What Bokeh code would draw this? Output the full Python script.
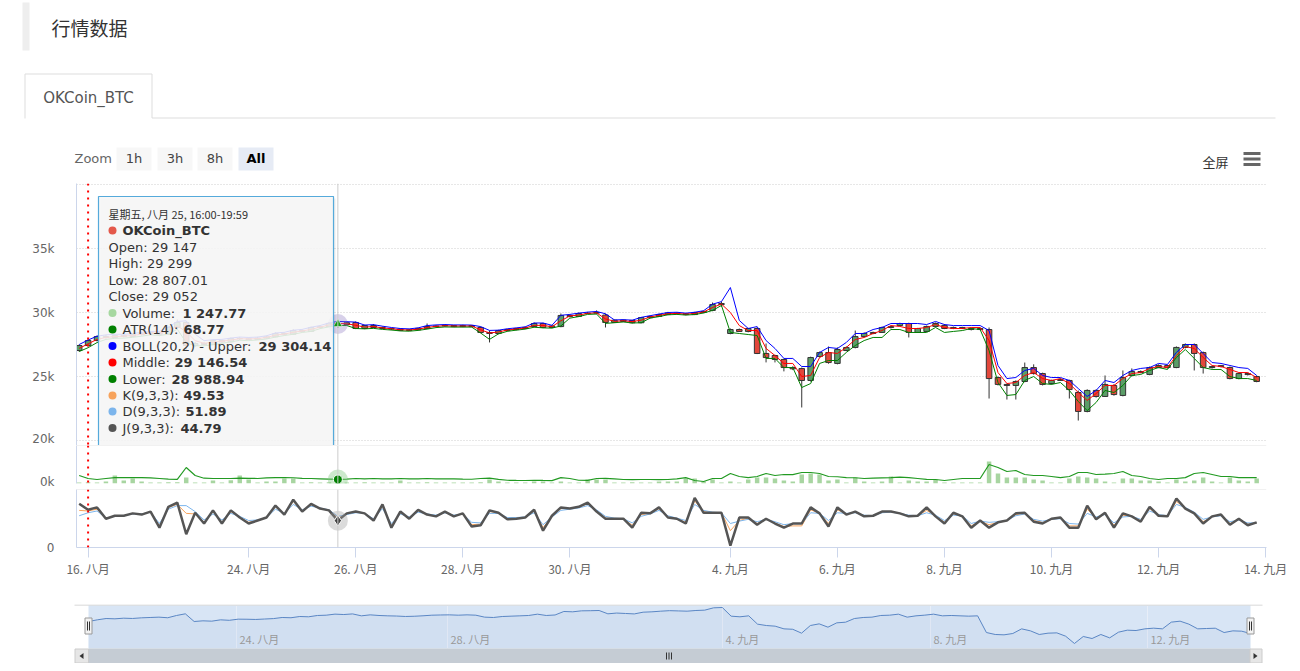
from bokeh.plotting import figure
from bokeh.layouts import column
from bokeh.models import Range1d, FixedTicker, Span, ColumnDataSource
from bokeh.core.properties import value
from bokeh.embed import file_html
from bokeh.resources import INLINE

# ---------------- data (4h candles, ordinal index) ----------------
open_ = [
27030,27420,27810,28120,28050,28200,28130,28280,28360,28440,
28300,28830,29220,27420,27580,27500,27810,27700,27970,27950,
27900,28000,28100,28360,28300,28590,28520,28830,28900,29147,
29052,29220,28750,28980,28830,28750,28700,28600,28650,28760,
28900,28950,28980,28900,28980,28830,28440,28360,28590,28670,
28750,28900,29140,28830,28900,29770,29690,29920,29950,29800,
29220,29400,29380,29200,29600,29690,29840,29960,29900,29840,
30000,30160,30620,28360,28670,28520,28750,26800,26640,26330,
25700,25620,24690,26560,26870,26020,27030,27270,28120,28360,
28440,28830,28980,29140,28440,28520,28910,28990,28750,28830,
28750,28670,28670,24920,24380,24300,24610,25700,25230,24450,
24690,24690,23750,22270,23910,23440,24300,23520,25080,25390,
25160,25700,25860,25700,27270,27500,26870,25700,25780,25700,
24840,25230,25000]
high = [
27500,27900,28200,28250,28300,28280,28350,28450,28520,28500,
28900,29450,29300,27700,27700,27900,27880,28050,28100,28050,
28100,28200,28450,28450,28700,28700,28900,29000,29250,29299,
29300,29300,29050,29100,28900,28800,28750,28720,28800,29140,
29000,29060,29000,29050,29000,28900,28600,28650,28720,28800,
28900,29220,29200,29000,29920,29850,30000,30050,30160,29900,
29450,29450,29420,29650,29750,29900,30050,30000,29950,30050,
30150,30780,30850,28750,28750,28800,28850,27580,26700,26400,
25800,25700,26550,26950,27340,27270,27350,28590,28450,28500,
28900,28980,29200,29200,28800,28980,29220,29100,28900,28880,
28830,28830,28830,25000,24450,24700,26090,25950,25300,24750,
24850,24750,23900,24000,24000,25080,24400,25470,25630,25470,
25780,25950,25900,27350,27580,27580,26950,25850,25900,25780,
25300,25300,25080]
low = [
26950,27350,27750,27950,27980,28050,28080,28200,28300,28150,
28250,28780,27050,27300,27400,27450,27600,27650,27850,27800,
27850,27950,28050,28200,28250,28450,28480,28750,28880,28807.01,
29000,28700,28700,28780,28700,28620,28550,28560,28600,28720,
28850,28900,28850,28850,28850,28400,27660,28300,28520,28600,
28700,28850,28780,28780,28850,29620,29650,29880,29900,28830,
29180,29250,29150,29150,29550,29650,29800,29850,29780,29800,
29950,30100,30450,28300,28480,28450,26750,26100,26100,25400,
25500,22580,24600,26500,26000,25950,26980,27200,28050,28300,
28400,28750,28950,28050,28400,28480,28880,28700,28700,28700,
28600,28620,23280,24300,23200,23200,24550,25150,24300,24380,
24650,23280,21560,22200,23350,23400,23500,23450,25000,25250,
25100,25650,25620,25650,27200,25470,25230,25620,25700,24780,
24780,25080,24550]
close = [
27420,27810,28120,28050,28200,28130,28280,28360,28440,28300,
28830,29220,27420,27580,27500,27810,27700,27970,27950,27900,
28000,28100,28360,28300,28590,28520,28830,28900,29147,29052,
29200,28750,28980,28830,28750,28700,28600,28650,28760,28900,
28950,28980,28900,28980,28900,28440,28360,28590,28670,28750,
28830,29140,28830,28950,29770,29690,29920,29950,30000,29220,
29400,29300,29200,29600,29690,29840,29960,29900,29840,30000,
30080,30620,30700,28670,28520,28750,26800,26480,26330,25700,
25600,24690,26480,26870,26090,27110,27260,28120,28360,28440,
28830,28900,29140,28440,28750,28910,29140,28750,28830,28750,
28670,28750,24840,24380,24300,24610,25700,25230,24380,24690,
24760,23980,22270,23910,23440,24380,23590,24920,25390,25310,
25700,25860,25700,27270,27500,26800,25700,25780,25850,24840,
25230,25150,24610]
boll_upper = [
27500,27850,28150,28250,28300,28300,28350,28450,28520,28530,
28850,29300,29350,28300,27800,27880,27900,28000,28080,28050,
28080,28180,28400,28450,28620,28680,28850,28980,29180,29304.14,
29280,29250,29020,29050,28930,28830,28750,28720,28800,28980,
29030,29060,29030,29030,29020,28900,28600,28620,28730,28800,
28880,29180,29180,29000,29780,29850,29950,30030,30080,29900,
29420,29440,29400,29620,29750,29880,30000,30020,29950,30020,
30140,30650,30850,31950,29380,28750,28900,27810,27190,26410,
26410,25780,25780,26880,27270,27190,27660,28360,28360,28670,
28830,29140,29140,29140,29140,29060,29300,29060,28980,28980,
28980,28980,28590,25860,24840,24920,25470,25630,25080,24920,
24920,24690,24060,23440,23910,24690,24530,25080,25470,25630,
25700,26020,25940,26880,27500,27500,26800,26090,26020,25860,
25700,25630,25080]
boll_mid = [
27200,27550,27900,28050,28120,28150,28200,28300,28400,28380,
28550,28950,28500,27800,27600,27680,27750,27850,27950,27930,
27960,28050,28230,28320,28450,28560,28680,28860,29020,29146.54,
29120,29000,28860,28900,28800,28730,28650,28630,28700,28830,
28920,28960,28940,28940,28940,28650,28400,28480,28630,28710,
28790,29000,28990,28890,29350,29730,29800,29930,29970,29500,
29310,29350,29290,29400,29650,29770,29900,29930,29870,29920,
30040,30390,30660,30000,28980,28590,28590,27190,26640,26020,
26020,25000,25080,26480,26880,26800,27270,27890,28050,28360,
28590,28980,28910,28750,28750,28830,29060,28830,28750,28750,
28830,28830,27810,25310,24450,24530,25080,25310,24840,24690,
24840,24450,23750,23130,23670,24300,24300,24840,25230,25310,
25630,25780,25700,26640,27340,27190,26480,25860,25780,25550,
25310,25310,24920]
boll_lower = [
26950,27250,27650,27900,27980,28000,28060,28150,28260,28200,
28300,28700,27650,27400,27400,27480,27600,27700,27830,27800,
27850,27930,28080,28200,28300,28440,28520,28740,28880,28988.94,
28980,28750,28720,28760,28680,28630,28560,28540,28600,28700,
28820,28870,28860,28860,28860,28400,27900,28330,28530,28620,
28700,28850,28800,28780,28950,29560,29680,29850,29880,29150,
29200,29260,29180,29200,29560,29680,29820,29850,29800,29840,
29960,30160,30550,28440,28360,28280,28200,26410,26410,25700,
25700,24140,24450,26020,26250,26250,26880,27420,27810,28050,
28050,28670,28670,28440,28440,28440,28830,28440,28520,28590,
28750,28670,27030,24530,23520,23590,24690,25000,24450,24380,
24530,23910,23050,22340,22970,23910,23750,24300,25080,25160,
25470,25700,25550,26480,27110,26410,25700,25550,25550,25000,
24840,24840,24690]
volume = [
260,300,240,520,1980,760,1240,480,250,230,
280,310,1500,270,220,740,260,780,2010,990,
240,510,470,1260,1230,250,290,230,300,1247.77,
260,240,280,250,230,270,760,240,250,280,
230,260,240,270,250,300,1010,480,260,240,
270,520,490,250,510,270,240,980,1020,1000,
260,240,280,250,270,500,480,520,1240,1260,
500,990,260,510,270,1010,1490,1510,1260,740,
510,2240,2510,2260,760,990,260,1500,490,250,
520,1740,260,760,510,480,1010,250,240,260,
250,270,5500,2500,1490,1520,1480,1010,740,260,
250,1260,1740,1510,1240,510,270,1250,1230,760,
740,500,260,1010,490,760,1500,510,260,1490,
760,510,1240]
atr = [
136,85,68,85,100,100,100,100,95,85,
75,70,272,136,90,85,85,85,90,88,
85,95,100,100,98,88,85,80,75,68.77,
75,85,80,85,80,78,85,80,78,85,
80,78,80,75,72,85,90,70,55,52,
51,55,52,50,100,85,55,52,85,88,
80,68,66,68,68,66,68,80,100,51,
34,85,85,170,119,100,119,170,136,153,
150,187,187,170,119,115,100,98,85,90,
95,100,110,100,85,70,68,51,68,85,
85,85,323,272,204,221,153,136,136,119,
100,119,187,187,153,160,170,204,136,119,
85,68,85,85,100,170,187,153,119,119,
100,100,100]
kdj_k = [
62,61,64,48,53,53,57,55,60,36,
67,72,57,56,42,60,42,60,50,42,
45,50,68,56,77,61,71,65,62,49.53,
56,59,57,46,69,36,58,49,61,55,
53,59,53,56,38,39,60,58,48,49,
50,61,33,52,65,65,67,73,61,49,
48,48,37,55,57,65,51,48,42,78,
60,58,58,28,45,49,40,47,41,35,
36,36,63,57,40,63,56,59,53,53,
59,60,57,53,53,62,53,42,56,52,
36,44,38,42,45,55,57,45,42,47,
49,36,36,64,49,56,37,54,52,45,
65,54,52,77,66,58,43,51,54,40,
47,39,41]
kdj_d = [
53,58,61,49,52,53,56,56,59,40,
64,70,70,60,46,56,46,57,52,45,
46,50,64,57,72,63,69,66,63,51.89,
55,58,57,48,65,40,56,51,59,56,
54,58,54,56,42,41,57,57,50,50,
51,58,38,51,62,64,66,70,63,52,
49,48,41,52,56,62,53,49,45,72,
62,59,58,40,44,47,43,47,43,38,
40,40,58,57,45,58,57,58,54,53,
58,59,57,54,53,58,54,45,54,53,
40,44,42,43,45,53,56,47,44,47,
48,40,39,57,51,55,41,51,52,47,
61,55,53,72,67,59,47,51,53,43,
46,41,41]
kdj_j = [
73,63,67,48,53,53,57,55,60,33,
68,75,22,58,40,62,40,62,50,40,
45,50,70,55,80,60,73,65,62,44.79,
57,60,57,45,72,33,60,48,63,55,
52,60,52,57,35,37,62,58,47,48,
50,63,28,53,67,65,68,75,60,48,
48,48,33,58,57,67,50,48,40,83,
58,58,58,3,50,50,38,48,40,33,
40,40,67,57,35,67,55,60,52,53,
60,60,57,52,53,67,52,40,58,52,
33,45,33,42,45,57,58,43,40,48,
50,33,33,70,47,58,33,57,52,43,
68,53,52,82,65,57,40,52,55,38,
48,37,42]

x_tick_idx = [1, 19, 31, 43, 55, 73, 85, 97, 109, 121, 133]
x_tick_labels = ["16. 八月", "24. 八月", "26. 八月", "28. 八月", "30. 八月",
                 "4. 九月", "6. 九月", "8. 九月", "10. 九月", "12. 九月", "14. 九月"]
price_ticks = [20000, 25000, 30000, 35000]
price_labels = ["20k", "25k", "30k", "35k"]
nav_tick_pos = [16.81, 40.78, 72.02, 95.65, 120.30]
nav_tick_labels = ["24. 八月", "28. 八月", "4. 九月", "8. 九月", "12. 九月"]
hover_i = 29
mark_i = 1

# ---------------- styling ----------------
W = 1292
LAT = "DejaVu Sans"
CJK = "Noto Sans CJK SC"
N = len(close)
idx = list(range(N))
XR = Range1d(-0.3, 133.1)


def no_align(p):
    try:
        p.frame_align = False
    except Exception:
        pass


def pane(h, yr, top=0, bottom=0, xloc=None):
    p = figure(width=W, height=h, x_range=XR, y_range=yr, toolbar_location=None,
               output_backend="svg", x_axis_location=xloc, y_axis_location="left",
               min_border_left=76, min_border_right=26, min_border_top=top,
               min_border_bottom=bottom)
    p.outline_line_color = None
    p.background_fill_color = "white"
    p.border_fill_color = "white"
    for g in p.xgrid:
        g.visible = False
    ax = p.yaxis[0]
    ax.axis_line_color = "#ccd6eb"
    ax.major_tick_line_color = None
    ax.minor_tick_line_color = None
    ax.major_label_text_color = "#666666"
    ax.major_label_text_font = LAT
    ax.major_label_text_font_size = "12px"
    ax.major_label_standoff = 16
    p.add_layout(Span(location=hover_i, dimension="height", line_color="#cccccc", line_width=1))
    p.add_layout(Span(location=mark_i, dimension="height", line_color="#ff0000",
                      line_width=2, line_dash="2 5"))
    return p


# ---------------- header ----------------
hdr = figure(width=W, height=183, x_range=Range1d(0, 1292), y_range=Range1d(183, 0),
             x_axis_location=None, y_axis_location=None, min_border=0,
             toolbar_location=None, output_backend="svg")
no_align(hdr)
hdr.outline_line_color = None
hdr.grid.visible = False
hdr.quad(left=[22], right=[29], top=[2], bottom=[50], fill_color="#eeeeee", line_color=None)
hdr.text(x=[51], y=[27], text=["行情数据"], text_font=value(CJK), text_font_size="19px",
         text_color="#333333", text_baseline="middle", text_align="left")
hdr.multi_line(xs=[[24.5, 24.5, 151.5, 151.5, 1275]], ys=[[118, 73.5, 73.5, 117.5, 117.5]],
               line_color="#dddddd", line_width=1)
hdr.text(x=[88], y=[97], text=["OKCoin_BTC"], text_font=value(LAT), text_font_size="15px",
         text_color="#555555", text_baseline="middle", text_align="center")
hdr.text(x=[74], y=[158], text=["Zoom"], text_font=value(LAT), text_font_size="13px",
         text_color="#666666", text_baseline="middle", text_align="left")
hdr.quad(left=[116, 157, 197], right=[151, 192, 232], top=[147] * 3, bottom=[170] * 3,
         fill_color="#f7f7f7", line_color=None)
hdr.quad(left=[238], right=[273], top=[147], bottom=[170], fill_color="#e6ebf5", line_color=None)
hdr.text(x=[133.5, 174.5, 214.5], y=[158] * 3, text=["1h", "3h", "8h"], text_font=value(LAT),
         text_font_size="13px", text_color="#444444", text_baseline="middle", text_align="center")
hdr.text(x=[255.5], y=[158], text=["All"], text_font=value(LAT), text_font_size="13px",
         text_font_style="bold", text_color="#000000", text_baseline="middle", text_align="center")
hdr.text(x=[1215], y=[161], text=["全屏"], text_font=value(CJK), text_font_size="13px",
         text_color="#333333", text_baseline="middle", text_align="center")
hdr.multi_line(xs=[[1243, 1260]] * 3, ys=[[153, 153], [158.5, 158.5], [164, 164]],
               line_color="#666666", line_width=3)

# ---------------- main pane ----------------
main = pane(262, Range1d(19609.375, 40078.125))
main.ygrid.ticker = FixedTicker(ticks=[20000, 25000, 30000, 35000, 40000])
main.ygrid.grid_line_color = "#cfcfcf"
main.ygrid.grid_line_dash = "1 2"
main.yaxis.ticker = FixedTicker(ticks=price_ticks)
main.yaxis.major_label_overrides = dict(zip(price_ticks, price_labels))

src = ColumnDataSource(dict(
    x=idx, open=open_, high=high, low=low, close=close,
    top=[max(o, c) for o, c in zip(open_, close)],
    bottom=[min(o, c) for o, c in zip(open_, close)],
    color=["#5b9d68" if c >= o else "#e2473b" for o, c in zip(open_, close)],
))
main.segment(x0="x", y0="low", x1="x", y1="high", source=src, line_color="#333333", line_width=1)
main.vbar(x="x", width=0.62, top="top", bottom="bottom", source=src, fill_color="color",
          line_color="#333333", line_width=1)
main.line(idx, boll_upper, line_color="#0000ff", line_width=1)
main.line(idx, boll_mid, line_color="#ff0000", line_width=1)
main.line(idx, boll_lower, line_color="#008000", line_width=1)
hy = (open_[hover_i] + close[hover_i]) / 2
main.scatter([hover_i], [hy], size=20, fill_color="#8e7cc3", fill_alpha=0.35, line_color=None)
main.scatter([hover_i], [hy], marker="triangle", size=9, fill_color="#119a11",
             line_color="white", line_width=0.6)


def mx(px):
    return -0.3 + (px - 76) / 8.92


def my(py):
    return 40078.125 - (py - 183) * 78.125


# tooltip
main.quad(left=[mx(100)], right=[mx(335)], top=[my(198)], bottom=[my(447)], fill_color="#000000",
          fill_alpha=0.07, line_color=None, level="overlay")
main.quad(left=[mx(98)], right=[mx(333)], top=[my(196)], bottom=[my(445)], fill_color="#f7f7f7",
          fill_alpha=0.88, line_color="#55aadb", line_width=1.2, level="overlay")
main.text(x=[mx(108)], y=[my(213.5)], text=["星期五, 八月 25, 16:00-19:59"], text_font=value(CJK),
          text_font_size="11px", text_color="#333333", text_baseline="middle", level="overlay")
main.text(x=[mx(122)], y=[my(230)], text=["OKCoin_BTC"], text_font=value(LAT), text_font_size="13px",
          text_font_style="bold", text_color="#333333", text_baseline="middle", level="overlay")
plain = ["Open: 29 147", "High: 29 299", "Low: 28 807.01", "Close: 29 052"]
plain_y = [246.5, 263, 279.5, 296]
main.text(x=[mx(108)] * 4, y=[my(v) for v in plain_y], text=plain, text_font=value(LAT),
          text_font_size="13px", text_color="#333333", text_baseline="middle", level="overlay")
lab = ["Volume:", "ATR(14):", "BOLL(20,2) - Upper:", "Middle:", "Lower:", "K(9,3,3):", "D(9,3,3):",
       "J(9,3,3):"]
val = ["1 247.77", "68.77", "29 304.14", "29 146.54", "28 988.94", "49.53", "51.89", "44.79"]
lab_y = [312.5, 329, 345.5, 362, 378.5, 395, 411, 427.5]
val_x = [182, 183, 258, 174, 171, 183, 185, 180]
dot_c = ["#a6d8a0", "#008000", "#0000ff", "#ff0000", "#008000", "#f7a35c", "#7cb5ec", "#555555"]
main.scatter([mx(112)] * 9, [my(v) for v in [230] + lab_y], size=8,
             fill_color=["#e4584a"] + dot_c, line_color=None, level="overlay")
main.text(x=[mx(122)] * 8, y=[my(v) for v in lab_y], text=lab, text_font=value(LAT),
          text_font_size="13px", text_color="#333333", text_baseline="middle", level="overlay")
main.text(x=[mx(v) for v in val_x], y=[my(v) for v in lab_y], text=val, text_font=value(LAT),
          text_font_size="13px", text_font_style="bold", text_color="#333333",
          text_baseline="middle", level="overlay")

# ---------------- volume / ATR pane ----------------
volp = pane(44, Range1d(-5, 9500), bottom=6)
volp.extra_y_ranges = {"atr": Range1d(0, 646)}
volp.ygrid.ticker = FixedTicker(ticks=[9430])
volp.ygrid.grid_line_color = "#e3e3e3"
volp.yaxis.ticker = FixedTicker(ticks=[0])
volp.yaxis.major_label_overrides = {0: "0k"}
volp.vbar(x=idx, top=volume, bottom=0, width=0.5, fill_color="#a8d5a1", line_color=None)
volp.line(idx, atr, y_range_name="atr", line_color="#229a22", line_width=1.2)
volp.scatter([hover_i], [atr[hover_i]], y_range_name="atr", size=20, fill_color="#7fc97f",
             fill_alpha=0.4, line_color=None)
volp.scatter([hover_i], [atr[hover_i]], y_range_name="atr", size=9, fill_color="#008000",
             line_color="white", line_width=1)

# ---------------- KDJ pane ----------------
kdj = pane(115, Range1d(-0.2, 97), bottom=57, xloc="below")
kdj.ygrid.ticker = FixedTicker(ticks=[96.2])
kdj.ygrid.grid_line_color = "#e3e3e3"
kdj.yaxis.ticker = FixedTicker(ticks=[0])
kdj.yaxis.major_label_overrides = {0: "0"}
xa = kdj.xaxis[0]
xa.ticker = FixedTicker(ticks=x_tick_idx)
xa.major_label_overrides = dict(zip(x_tick_idx, x_tick_labels))
xa.axis_line_color = "#ccd6eb"
xa.major_tick_line_color = "#ccd6eb"
xa.major_tick_out = 10
xa.major_tick_in = 0
xa.minor_tick_line_color = None
xa.major_label_text_font = CJK
xa.major_label_text_font_size = "12px"
xa.major_label_text_color = "#666666"
xa.major_label_standoff = 2
kdj.line(idx, kdj_k, line_color="#f7a35c", line_width=1)
kdj.line(idx, kdj_d, line_color="#7cb5ec", line_width=1)
kdj.line(idx, kdj_j, line_color="#555555", line_width=2.5)
kdj.scatter([hover_i], [kdj_j[hover_i]], size=20, fill_color="#999999", fill_alpha=0.35, line_color=None)
kdj.scatter([hover_i], [kdj_j[hover_i]], marker="diamond", size=11, fill_color="#444444",
            line_color="white", line_width=1)

# ---------------- navigator ----------------
nav = figure(width=W, height=59, x_range=Range1d(0, 1292), y_range=Range1d(663, 604),
             x_axis_location=None, y_axis_location=None, min_border=0,
             toolbar_location=None, output_backend="svg")
no_align(nav)
nav.outline_line_color = None
nav.grid.visible = False
nav.extra_x_ranges = {"nx": Range1d(-9.997, 136.77)}
nav.extra_y_ranges = {"ny": Range1d(17586, 31403)}
nav.quad(left=[88], right=[1250], top=[605], bottom=[648], fill_color="#d8e5f5", line_color=None)
nav.segment(x0=nav_tick_pos, x1=nav_tick_pos, y0=[605] * 5, y1=[648] * 5, x_range_name="nx",
            line_color="#e8eef8", line_width=1)
nav.varea(x=idx, y1=close, y2=[21100] * N, x_range_name="nx", y_range_name="ny",
          fill_color="#4572a7", fill_alpha=0.05)
nav.line(idx, close, x_range_name="nx", y_range_name="ny", line_color="#5a86c4", line_width=1)
nav.text(x=nav_tick_pos, y=[638] * 5, text=nav_tick_labels, x_range_name="nx", x_offset=3,
         text_font=value(CJK), text_font_size="11px", text_color="#999999",
         text_baseline="middle", text_align="left")
nav.segment(x0=[74], x1=[1262], y0=[604.5], y1=[604.5], line_color="#cccccc", line_width=1)
# scrollbar
nav.quad(left=[88], right=[1250], top=[648.5], bottom=[662.5], fill_color="#c5ccd4",
         line_color="#c5ccd4")
nav.quad(left=[74.5, 1249.5], right=[88, 1261.5], top=[648.5] * 2, bottom=[662.5] * 2,
         fill_color="#e6e6e6", line_color="#cccccc")
nav.patches(xs=[[83, 79, 83], [1253, 1257, 1253]], ys=[[652.5, 655.5, 658.5]] * 2,
            fill_color="#333333", line_color=None)
nav.segment(x0=[666, 668.5, 671], x1=[666, 668.5, 671], y0=[652] * 3, y1=[659] * 3,
            line_color="#333333", line_width=1)
# handles
nav.quad(left=[84.5, 1246.5], right=[91.5, 1253.5], top=[617.5] * 2, bottom=[633.5] * 2,
         fill_color="#f2f2f2", line_color="#999999")
nav.segment(x0=[87, 89, 1249, 1251], x1=[87, 89, 1249, 1251], y0=[621] * 4, y1=[630] * 4,
            line_color="#333333", line_width=1)

layout = column(hdr, main, volp, kdj, nav, spacing=0)
open("out.html", "w").write(file_html(layout, INLINE))
